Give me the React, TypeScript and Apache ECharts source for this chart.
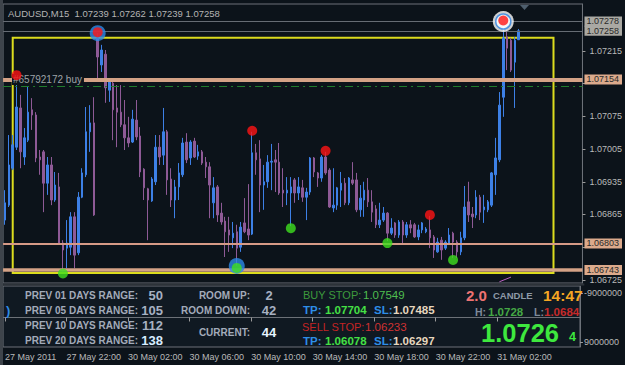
import React, { useEffect, useRef } from "react";
import * as echarts from "echarts";

// ---------- data ----------
const headerText = "AUDUSD,M15  1.07239 1.07262 1.07239 1.07258";
const timeLabels = ["27 May 2011", "27 May 22:00", "30 May 02:00", "30 May 06:00", "30 May 10:00", "30 May 14:00", "30 May 18:00", "30 May 22:00", "31 May 02:00"];
const barsPerLabel = 16;
const slotCount = 150;

const opens = [
  1.06853, 1.06885, 1.06964, 1.07009, 1.07093, 1.06988, 1.07024, 1.07089, 1.07078, 1.06988,
  1.06999, 1.06932, 1.06971, 1.06896, 1.06924, 1.06804, 1.06793, 1.06795, 1.06860, 1.06783,
  1.06902, 1.06950, 1.07042, 1.07061, 1.07243, 1.07185, 1.07208, 1.07131, 1.07146, 1.07093,
  1.07084, 1.07057, 1.07029, 1.07020, 1.07067, 1.07033, 1.06962, 1.06920, 1.06894, 1.06935,
  1.07009, 1.06992, 1.07042, 1.06941, 1.06896, 1.06924, 1.06950, 1.07020, 1.06986, 1.07022,
  1.06990, 1.06999, 1.06977, 1.06967, 1.06890, 1.06924, 1.06868, 1.06851, 1.06832, 1.06815,
  1.06828, 1.06795, 1.06847, 1.06834, 1.06823, 1.06997, 1.06984, 1.06928, 1.06935, 1.06977,
  1.06982, 1.06977, 1.06917, 1.06911, 1.06911, 1.06939, 1.06911, 1.06922, 1.06902, 1.06913,
  1.06986, 1.06954, 1.06943, 1.06988, 1.06960, 1.06879, 1.06885, 1.06917, 1.06932, 1.06890,
  1.06939, 1.06939, 1.06875, 1.06896, 1.06917, 1.06892, 1.06877, 1.06843, 1.06853, 1.06868,
  1.06825, 1.06847, 1.06821, 1.06849, 1.06821, 1.06843, 1.06843, 1.06817, 1.06832, 1.06828,
  1.06832, 1.06817, 1.06785, 1.06810, 1.06793, 1.06804, 1.06825, 1.06806, 1.06785, 1.06815,
  1.06892, 1.06866, 1.06864, 1.06902, 1.06875, 1.06875, 1.06885, 1.06950, 1.06982, 1.07116,
  1.07245, 1.07238, 1.07191, 1.07239,
];
const highs = [
  1.06917, 1.07035, 1.07035, 1.07161, 1.07121, 1.07050, 1.07138, 1.07114, 1.07084, 1.07003,
  1.07003, 1.06988, 1.06988, 1.06956, 1.06954, 1.06810, 1.06853, 1.06870, 1.06870, 1.06913,
  1.06964, 1.07095, 1.07099, 1.07116, 1.07253, 1.07228, 1.07217, 1.07157, 1.07153, 1.07142,
  1.07142, 1.07110, 1.07074, 1.07089, 1.07110, 1.07052, 1.06964, 1.06922, 1.06945, 1.07035,
  1.07035, 1.07093, 1.07046, 1.06964, 1.06939, 1.06975, 1.07029, 1.07039, 1.07024, 1.07029,
  1.07014, 1.07003, 1.06988, 1.06977, 1.06945, 1.06928, 1.06890, 1.06860, 1.06860, 1.06849,
  1.06843, 1.06849, 1.06900, 1.06930, 1.07042, 1.07016, 1.07024, 1.06971, 1.06992, 1.07016,
  1.07003, 1.07018, 1.06964, 1.06945, 1.06945, 1.06943, 1.06945, 1.06939, 1.06922, 1.06988,
  1.06988, 1.06956, 1.06992, 1.06999, 1.06964, 1.06964, 1.06924, 1.06956, 1.06943, 1.06945,
  1.06977, 1.06954, 1.06928, 1.06935, 1.06943, 1.06917, 1.06885, 1.06890, 1.06881, 1.06870,
  1.06857, 1.06849, 1.06853, 1.06853, 1.06849, 1.06853, 1.06847, 1.06843, 1.06849, 1.06838,
  1.06862, 1.06821, 1.06815, 1.06817, 1.06810, 1.06836, 1.06828, 1.06810, 1.06828, 1.06926,
  1.06935, 1.06881, 1.06917, 1.06907, 1.06907, 1.06896, 1.06956, 1.07029, 1.07127, 1.07278,
  1.07260, 1.07243, 1.07245, 1.07262,
];
const lows = [
  1.06843, 1.06881, 1.06960, 1.07003, 1.06964, 1.06971, 1.07020, 1.07046, 1.06977, 1.06950,
  1.06870, 1.06907, 1.06885, 1.06892, 1.06800, 1.06743, 1.06750, 1.06778, 1.06750, 1.06778,
  1.06900, 1.06945, 1.06999, 1.06862, 1.07153, 1.07170, 1.07104, 1.07106, 1.07024, 1.07009,
  1.07052, 1.07003, 1.07009, 1.07018, 1.07024, 1.06945, 1.06896, 1.06810, 1.06892, 1.06928,
  1.06971, 1.06971, 1.06907, 1.06881, 1.06857, 1.06896, 1.06945, 1.06975, 1.06971, 1.06986,
  1.06982, 1.06971, 1.06943, 1.06857, 1.06857, 1.06849, 1.06843, 1.06774, 1.06785, 1.06793,
  1.06755, 1.06785, 1.06825, 1.06810, 1.06821, 1.06950, 1.06870, 1.06875, 1.06922, 1.06917,
  1.06913, 1.06907, 1.06881, 1.06885, 1.06840, 1.06890, 1.06896, 1.06892, 1.06853, 1.06907,
  1.06945, 1.06924, 1.06935, 1.06950, 1.06879, 1.06870, 1.06875, 1.06881, 1.06885, 1.06885,
  1.06928, 1.06870, 1.06860, 1.06860, 1.06881, 1.06849, 1.06836, 1.06836, 1.06849, 1.06808,
  1.06821, 1.06815, 1.06815, 1.06804, 1.06815, 1.06825, 1.06815, 1.06810, 1.06825, 1.06825,
  1.06793, 1.06772, 1.06783, 1.06768, 1.06789, 1.06800, 1.06772, 1.06772, 1.06778, 1.06810,
  1.06849, 1.06836, 1.06857, 1.06853, 1.06847, 1.06870, 1.06881, 1.06907, 1.06977, 1.07074,
  1.07174, 1.07170, 1.07093, 1.07239,
];
const closes = [
  1.06890, 1.06971, 1.07014, 1.07095, 1.06999, 1.07029, 1.07084, 1.07078, 1.06986, 1.06982,
  1.06932, 1.06971, 1.06896, 1.06928, 1.06804, 1.06789, 1.06804, 1.06860, 1.06778, 1.06902,
  1.06954, 1.07042, 1.07061, 1.06864, 1.07202, 1.07217, 1.07136, 1.07149, 1.07089, 1.07084,
  1.07057, 1.07029, 1.07018, 1.07069, 1.07031, 1.06956, 1.06922, 1.06896, 1.06941, 1.07009,
  1.06988, 1.07042, 1.06939, 1.06896, 1.06924, 1.06954, 1.07018, 1.06982, 1.07020, 1.06988,
  1.06999, 1.06975, 1.06967, 1.06928, 1.06922, 1.06864, 1.06849, 1.06828, 1.06821, 1.06825,
  1.06793, 1.06838, 1.06828, 1.06821, 1.06997, 1.06982, 1.06928, 1.06935, 1.06977, 1.06979,
  1.06977, 1.06911, 1.06911, 1.06917, 1.06924, 1.06911, 1.06924, 1.06902, 1.06913, 1.06986,
  1.06956, 1.06943, 1.06988, 1.06954, 1.06881, 1.06885, 1.06922, 1.06932, 1.06890, 1.06943,
  1.06932, 1.06875, 1.06900, 1.06917, 1.06892, 1.06870, 1.06843, 1.06853, 1.06868, 1.06825,
  1.06836, 1.06821, 1.06849, 1.06821, 1.06843, 1.06836, 1.06817, 1.06832, 1.06847, 1.06834,
  1.06815, 1.06789, 1.06806, 1.06789, 1.06806, 1.06821, 1.06806, 1.06785, 1.06815, 1.06881,
  1.06864, 1.06860, 1.06902, 1.06870, 1.06881, 1.06892, 1.06954, 1.06986, 1.07099, 1.07243,
  1.07221, 1.07174, 1.07238, 1.07258,
];

// fractal markers (bar indices)
const redHighBars = [3, 24, 64, 83, 110, 129];
const greenLowBars = [15, 60, 74, 99, 116];
const ringedHighBars = [24];
const targetHighBars = [129];
const ringedLowBars = [60];

// price axis
const priceAxisMin = 1.0671838;
const priceAxisMax = 1.0731544;
const priceTickLabels = [1.06725, 1.06865, 1.06935, 1.07005, 1.07075, 1.07215];
const priceTickExtra = [1.06795, 1.07145];

// horizontal levels
const dayHighLine = 1.07278;
const bidLine = 1.07258;
const orderLine = 1.07154;
const orderLabel = "#65792172 buy";
const stopLine = 1.0714;
const supportLine = 1.06803;
const rangeLowLine = 1.06746;
const rangeLowText = "1.06743";
const boxTop = 1.07243;
const boxBottom = 1.0674;
const boxFromBar = 2;
const boxToBar = 142;
const trendFrom = [128, 1.06721];
const trendTo = [131, 1.06731];

// sub-window scale
const subMin = -11570000;
const subMax = 10840000;
const subTicks = [-9000000, 9000000];

// info panel
const rangeLabels = ["PREV 01 DAYS RANGE:", "PREV 05 DAYS RANGE:", "PREV 10 DAYS RANGE:", "PREV 20 DAYS RANGE:"];
const rangeValues = ["50", "105", "112", "138"];
const roomLabels = ["ROOM UP:", "ROOM DOWN:", "CURRENT:"];
const roomValues = ["2", "42", "44"];
const buyStop = "1.07549", buyTP = "1.07704", buySL = "1.07485";
const sellStop = "1.06233", sellTP = "1.06078", sellSL = "1.06297";
const spreadText = "2.0", candleTimer = "14:47";
const dayHigh = "1.0728", dayLow = "1.0684";
const bigBid = "1.0726", bidPip = "4";

// ---------- styles ----------
const F = "'Liberation Sans', Arial, Helvetica, sans-serif";
const BG = "#0c131a";
const PANEL_BG = "#101922";
const BORDER = "#6c7178";
const AXIS_TXT = "#b9b9b9";
const UP = "#3d80e6";
const DOWN = "#8e5a96";
const PEACH = "#d4a286";
const GRID_LEFT = 3.06;
const GRID_W = 581.25;

function boxLabel(bg: string, fixedText?: string) {
  return {
    show: true,
    position: "end",
    distance: 2,
    formatter: (p: any) => fixedText || Number(p.value).toFixed(5),
    backgroundColor: bg,
    color: "#2a2a2a",
    fontSize: 9,
    fontFamily: F,
    padding: [1, 3, 0, 2],
  };
}

function buildOption() {
  const cats = Array.from({ length: slotCount }, (_, i) => String(i));
  const candles = opens.map((o, i) => [o, closes[i], lows[i], highs[i]]);
  const tickFn = (i: number) => i % barsPerLabel === 0 && i / barsPerLabel < timeLabels.length;
  return {
    animation: false,
    backgroundColor: BG,
    grid: [
      { left: GRID_LEFT, top: 4, width: GRID_W, height: 279, show: true, borderColor: BORDER, borderWidth: 1, backgroundColor: BG },
      { left: GRID_LEFT, top: 286, width: GRID_W, height: 61, show: true, borderColor: BORDER, borderWidth: 1, backgroundColor: PANEL_BG },
    ],
    xAxis: [
      { type: "category", gridIndex: 0, data: cats, boundaryGap: true, show: false },
      {
        type: "category",
        gridIndex: 1,
        data: cats,
        boundaryGap: true,
        axisLine: { show: true, lineStyle: { color: BORDER } },
        axisTick: { show: true, interval: tickFn, alignWithLabel: true, length: 4, lineStyle: { color: "#9a9a9a" } },
        axisLabel: {
          interval: tickFn,
          formatter: (_v: string, i: number) => timeLabels[i / barsPerLabel] || "",
          color: AXIS_TXT,
          fontSize: 9,
          fontFamily: F,
          align: "left",
          margin: 5,
        },
        splitLine: { show: false },
      },
    ],
    yAxis: [
      {
        type: "value",
        gridIndex: 0,
        position: "right",
        min: priceAxisMin,
        max: priceAxisMax,
        splitLine: { show: false },
        axisLine: { show: true, lineStyle: { color: BORDER } },
        axisTick: { show: true, customValues: [...priceTickLabels, ...priceTickExtra], length: 3, lineStyle: { color: "#9a9a9a" } },
        axisLabel: { customValues: priceTickLabels, formatter: (v: number) => v.toFixed(5), color: AXIS_TXT, fontSize: 9, fontFamily: F, margin: 7 },
      },
      {
        type: "value",
        gridIndex: 1,
        position: "right",
        inverse: true,
        min: subMin,
        max: subMax,
        splitLine: { show: false },
        axisLine: { show: true, lineStyle: { color: BORDER } },
        axisTick: { show: true, customValues: subTicks, length: 3, lineStyle: { color: "#9a9a9a" } },
        axisLabel: { customValues: subTicks, formatter: (v: number) => String(v), color: AXIS_TXT, fontSize: 9, fontFamily: F, margin: 4 },
      },
    ],
    series: [
      {
        type: "line",
        xAxisIndex: 0,
        yAxisIndex: 0,
        data: [],
        showSymbol: false,
        z: 2,
        markArea: {
          silent: true,
          itemStyle: { color: "rgba(0,0,0,0)", borderColor: "#dcdc1e", borderWidth: 2 },
          data: [[{ coord: [boxFromBar, boxTop] }, { coord: [boxToBar, boxBottom] }]],
        },
        markLine: {
          silent: true,
          symbol: "none",
          precision: 6,
          animation: false,
          label: { show: false },
          emphasis: { disabled: true },
          data: [
            { yAxis: dayHighLine, lineStyle: { color: "#666c74", width: 1, type: "solid" }, label: boxLabel("#aaa9a3") },
            { yAxis: bidLine, lineStyle: { color: "#666c74", width: 1, type: "solid" }, label: boxLabel("#aaa9a3") },
            { yAxis: stopLine, lineStyle: { color: "#1f7d2c", width: 1, type: [8, 4, 2, 4] }, label: { show: false } },
            { yAxis: orderLine, lineStyle: { color: PEACH, width: 4, type: "solid" }, label: boxLabel("#dcaa8c") },
            { yAxis: supportLine, lineStyle: { color: "#d69a86", width: 2, type: "solid" }, label: boxLabel("#dcaa8c") },
            { yAxis: rangeLowLine, lineStyle: { color: PEACH, width: 3.5, type: "solid" }, label: boxLabel("#dcaa8c", rangeLowText) },
            [
              { coord: trendFrom, lineStyle: { color: "#b862c0", width: 1, type: "solid" }, label: { show: false } },
              { coord: trendTo, lineStyle: { color: "#b862c0", width: 1, type: "solid" } },
            ],
          ],
        },
      },
      {
        type: "candlestick",
        xAxisIndex: 0,
        yAxisIndex: 0,
        data: candles,
        barWidth: 2,
        itemStyle: { color: UP, color0: DOWN, borderColor: UP, borderColor0: DOWN, borderWidth: 1 },
        z: 3,
      },
      {
        type: "scatter",
        xAxisIndex: 0,
        yAxisIndex: 0,
        z: 8,
        symbol: "circle",
        symbolSize: 21,
        itemStyle: { color: "#ffffff" },
        data: targetHighBars.map((i) => [i, highs[i]]),
      },
      {
        type: "scatter",
        xAxisIndex: 0,
        yAxisIndex: 0,
        z: 9,
        symbol: "circle",
        symbolSize: 15,
        itemStyle: { color: "#ffffff", borderColor: "#2a7fe0", borderWidth: 1.5 },
        data: targetHighBars.map((i) => [i, highs[i]]),
      },
      {
        type: "scatter",
        xAxisIndex: 0,
        yAxisIndex: 0,
        z: 9,
        symbol: "circle",
        symbolSize: 16,
        itemStyle: { color: "#2c8ae8" },
        data: [
          ...ringedHighBars.map((i) => [i, highs[i]]),
          ...ringedLowBars.map((i) => [i, lows[i]]),
        ],
      },
      {
        type: "scatter",
        xAxisIndex: 0,
        yAxisIndex: 0,
        z: 10,
        symbol: "circle",
        symbolSize: 10,
        symbolOffset: [0, -1],
        itemStyle: { color: "#ff1414" },
        data: redHighBars.map((i) => [i, highs[i]]),
      },
      {
        type: "scatter",
        xAxisIndex: 0,
        yAxisIndex: 0,
        z: 10,
        symbol: "circle",
        symbolSize: 10,
        symbolOffset: [0, 2],
        itemStyle: { color: "#3fe01e" },
        data: greenLowBars.map((i) => [i, lows[i]]),
      },
      { type: "line", xAxisIndex: 1, yAxisIndex: 1, data: [], showSymbol: false },
    ],
  };
}

function txt(text: string, x: number, y: number, fill: string, size: number, bold = true, align = "left", extra: any = {}, z = 100) {
  return {
    type: "text",
    x,
    y,
    z,
    silent: true,
    style: {
      text,
      fill,
      fontSize: size,
      fontFamily: F,
      fontWeight: bold ? "bold" : "normal",
      textAlign: align,
      textVerticalAlign: "middle",
      align,
      verticalAlign: "middle",
      ...extra,
    },
  };
}

function buildGraphic(yOrder: number) {
  const els: any[] = [];
  els.push({ type: "rect", z: 100, silent: true, shape: { x: 0, y: 0, width: 3, height: 365 }, style: { fill: "#3e444b" } });
  els.push({ type: "rect", z: 100, silent: true, shape: { x: GRID_LEFT, y: 283.5, width: GRID_W, height: 2 }, style: { fill: "#2c3239" } });
  els.push({ type: "polygon", z: 100, silent: true, shape: { points: [[520, 5], [529, 5], [524.5, 10]] }, style: { fill: "#4f5f6e" } });
  els.push(txt(headerText, 8, 13, "#b4b4b4", 9.5, false));
  els.push(txt(orderLabel, 12, yOrder, "#9ea3a8", 10, false, "left", { backgroundColor: BG, padding: [1, 2, 0, 1] }, 7));

  const rowsL = [295, 310, 325, 340];
  els.push(txt(")", 6, 310, "#2f8be6", 13, true));
  rangeLabels.forEach((l, i) => els.push(txt(l, 25, rowsL[i], "#a3abba", 10, true)));
  const rvCol = ["#a7b1c2", "#a7b1c2", "#a7b1c2", "#d8ecff"];
  rangeValues.forEach((v, i) => els.push(txt(v, 163, rowsL[i] + 0.5, rvCol[i], 13, true, "right")));

  const rowsR = [295, 310, 332];
  roomLabels.forEach((l, i) => els.push(txt(l, 250, rowsR[i], "#a3abba", 10, true, "right")));
  const roomCol = ["#a7b1c2", "#a7b1c2", "#e6f4ff"];
  roomValues.forEach((v, i) => els.push(txt(v, 269, rowsR[i] + 0.5, roomCol[i], 13, true, "center")));

  els.push(txt("BUY STOP:", 303, 295, "#3d9a3d", 11, false));
  els.push(txt(buyStop, 363, 295, "#4fbe4f", 11.5, false));
  els.push(txt("TP:", 303, 310, "#2e8ee8", 11.5, true));
  els.push(txt(buyTP, 325, 310, "#45e045", 11.5, true));
  els.push(txt("SL:", 374, 310, "#2e8ee8", 11.5, true));
  els.push(txt(buySL, 393, 310, "#e6d6be", 11.5, true));
  els.push(txt("SELL STOP:", 302, 327, "#c42424", 11, false));
  els.push(txt(sellStop, 365, 327, "#d03232", 11.5, false));
  els.push(txt("TP:", 303, 341, "#2e8ee8", 11.5, true));
  els.push(txt(sellTP, 325, 341, "#45e045", 11.5, true));
  els.push(txt("SL:", 374, 341, "#2e8ee8", 11.5, true));
  els.push(txt(sellSL, 393, 341, "#e6d6be", 11.5, true));

  els.push(txt(spreadText, 466, 295, "#ee7272", 15, true));
  els.push(txt("CANDLE", 493, 295.5, "#8e9aa8", 9.5, true));
  els.push(txt(candleTimer, 543, 295, "#f5a623", 15.5, true));
  els.push(txt("H:", 475, 312, "#7d8a9a", 10.5, true));
  els.push(txt(dayHigh, 488, 312, "#45a845", 11.5, true));
  els.push(txt("L:", 534, 312, "#7d8a9a", 10.5, true));
  els.push(txt(dayLow, 544, 312, "#c62a2a", 11.5, true));
  els.push(txt(bigBid, 481, 333, "#3ee83e", 25.5, true));
  els.push(txt(bidPip, 569, 337, "#3ee83e", 12.5, true));
  return els;
}

export default function App() {
  const ref = useRef<HTMLDivElement>(null);
  useEffect(() => {
    document.body.style.margin = "0";
    document.body.style.background = BG;
    const chart = echarts.init(ref.current!, null, { renderer: "svg" });
    chart.setOption(buildOption() as any);
    const yOrder = chart.convertToPixel({ yAxisIndex: 0 }, orderLine) as number;
    chart.setOption({ graphic: { elements: buildGraphic(yOrder) } } as any);
    return () => chart.dispose();
  }, []);
  return <div ref={ref} style={{ width: 625, height: 365 }} />;
}
